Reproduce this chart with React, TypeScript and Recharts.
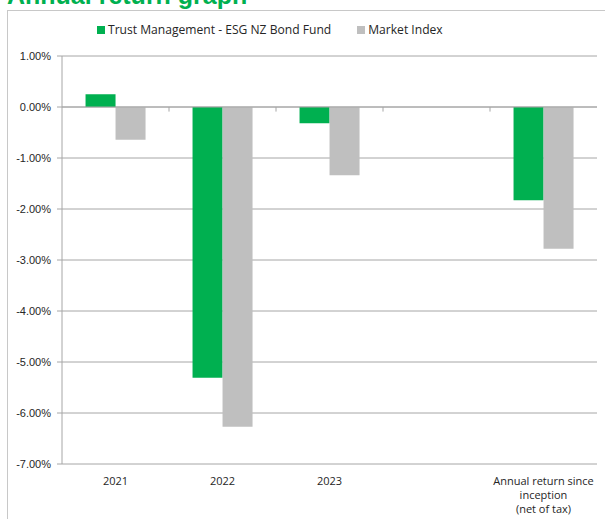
import React from "react";
import { BarChart, Bar, XAxis, YAxis, CartesianGrid, ReferenceLine } from "recharts";

const categories = ["2021", "2022", "2023", "", "Annual return since\ninception\n(net of tax)"];
const fundValues: (number | null)[] = [0.25, -5.31, -0.32, null, -1.83];
const indexValues: (number | null)[] = [-0.64, -6.27, -1.34, null, -2.78];
const yTicks = [-7, -6, -5, -4, -3, -2, -1, 0, 1];
const seriesNames = ["Trust Management - ESG NZ Bond Fund", "Market Index"];
const seriesColors = ["#00B050", "#BFBFBF"];
const boundaries = [1, 2, 3, 4];

const data = categories.map((c, i) => ({ name: c, idx: i + 0.5, fund: fundValues[i], index: indexValues[i] }));

const XTick = (props: any) => {
  const { x, y, payload } = props;
  const lines = String(payload.value).split("\n");
  return (
    <text x={x} y={y} textAnchor="middle" fill="#262626" fontSize={11} fontFamily="'Open Sans', sans-serif">
      {lines.map((l: string, i: number) => (
        <tspan key={i} x={x} dy={i === 0 ? 13 : 14}>{l}</tspan>
      ))}
    </text>
  );
};

export default function App() {
  return (
    <div style={{ position: "absolute", left: 0, top: 0, width: 605, height: 519, overflow: "hidden", background: "#fff" }}>
      <div style={{ position: "absolute", left: 7, top: -19, fontFamily: "'Liberation Sans', Arial, sans-serif", fontWeight: 700, fontSize: 25, color: "#00B050", whiteSpace: "nowrap" }}>
        Annual return graph
      </div>
      <div style={{ position: "absolute", left: 7, top: 10, width: 700, height: 600, borderLeft: "1px solid #c8c8c8", borderTop: "1px solid #c8c8c8" }} />
      <div style={{ position: "absolute", left: 97, top: 21, display: "flex", fontFamily: "'Open Sans', sans-serif", fontSize: 12.1, color: "#262626", whiteSpace: "nowrap" }}>
        {seriesNames.map((n, i) => (
          <div key={n} style={{ display: "flex", alignItems: "center", marginRight: i === 0 ? 26 : 0 }}>
            <div style={{ width: 8, height: 8, background: seriesColors[i], marginRight: 3 }} />
            <span>{n}</span>
          </div>
        ))}
      </div>
      <div style={{ position: "absolute", left: 0, top: 0 }}>
        <BarChart width={605} height={519} data={data} margin={{ top: 56, right: 8, bottom: 0, left: 0 }} barCategoryGap="22%" barGap={0}>
          <CartesianGrid vertical={false} stroke="#a6a6a6" />
          <XAxis dataKey="name" axisLine={false} tickLine={false} height={55} tick={<XTick />} interval={0} />
          <XAxis xAxisId="num" dataKey="idx" type="number" domain={[0, 5]} hide />
          <YAxis
            width={62}
            domain={[-7, 1]}
            ticks={yTicks}
            tickFormatter={(v: number) => v.toFixed(2) + "%"}
            stroke="#a6a6a6"
            tickSize={5}
            tickMargin={6}
            tick={{ fill: "#262626", fontSize: 11, fontFamily: "'Liberation Sans', Arial, sans-serif" }}
            allowDataOverflow
          />
          <ReferenceLine y={0} stroke="#a6a6a6" />
          {boundaries.map((b) => (
            <ReferenceLine key={b} xAxisId="num" segment={[{ x: b, y: 0 }, { x: b, y: -0.09 }]} stroke="#a6a6a6" />
          ))}
          <Bar dataKey="fund" fill={seriesColors[0]} isAnimationActive={false} />
          <Bar dataKey="index" fill={seriesColors[1]} isAnimationActive={false} />
        </BarChart>
      </div>
    </div>
  );
}
